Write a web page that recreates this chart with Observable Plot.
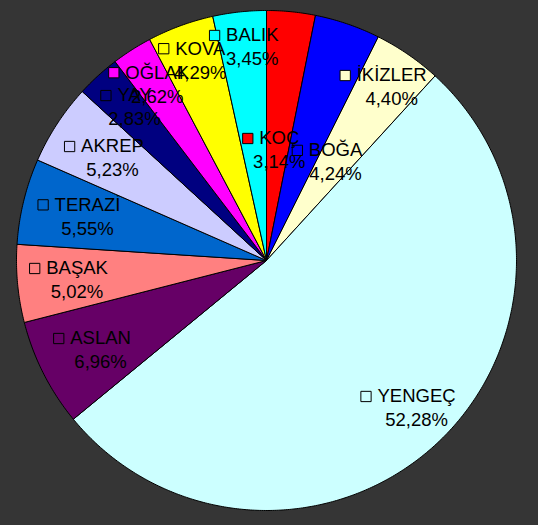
<!DOCTYPE html>
<html>
<head>
<meta charset="utf-8">
<script src="https://cdn.jsdelivr.net/npm/d3@7"></script>
<script src="https://cdn.jsdelivr.net/npm/@observablehq/plot@0.6"></script>
<style>
  html, body { margin: 0; padding: 0; background: #353535; }
  #chart svg { display: block; }
</style>
</head>
<body>
<div id="chart"></div>
<script>
// ---- data (clockwise from 12 o'clock) ----
const names  = ["KOÇ", "BOĞA", "İKİZLER", "YENGEÇ", "ASLAN", "BAŞAK", "TERAZİ", "AKREP", "YAY", "OĞLAK", "KOVA", "BALIK"];
const shares = [3.14, 4.24, 4.40, 52.28, 6.96, 5.02, 5.55, 5.23, 2.83, 2.62, 4.29, 3.45];
const colors = ["#ff0000", "#0000ff", "#ffffcc", "#ccffff", "#660066", "#ff8080", "#0066cc", "#ccccff", "#000080", "#ff00ff", "#ffff00", "#00ffff"];

// ---- label layout (radius fraction, angle nudge in degrees) ----
const labelRadius = [0.443, 0.48, 0.854, 0.843, 0.755, 0.762, 0.737, 0.739, 0.808, 0.828, 0.842, 0.854];
const labelTurn   = [1.0, 16.2, 1.4, -1.9, -1.6, -0.7, 0.0, 0.4, 1.6, 0.7, 1.8, 2.4];

const FONT_SIZE = 18.5;
const FONT_FAMILY = "Liberation Sans, Arial, sans-serif";
const R_PX = 250; // pixels per data unit

const total = d3.sum(shares);
const fmt = v => v.toFixed(2).replace(".", ",") + "%";

// measure text widths
const ctx = document.createElement("canvas").getContext("2d");
ctx.font = `${FONT_SIZE}px ${FONT_FAMILY}`;

const slices = [];
const labels = [];
let acc = 0;
names.forEach((name, i) => {
  const a0 = acc / total * 2 * Math.PI;
  acc += shares[i];
  const a1 = acc / total * 2 * Math.PI;
  const n = Math.max(2, Math.ceil((a1 - a0) / (Math.PI / 360)));
  slices.push({name, color: colors[i], x: 0, y: 0});
  for (let k = 0; k <= n; k++) {
    const a = a0 + (a1 - a0) * k / n;
    slices.push({name, color: colors[i], x: Math.sin(a), y: Math.cos(a)});
  }
  slices.push({name, color: colors[i], x: 0, y: 0});
  const am = (a0 + a1) / 2 + labelTurn[i] * Math.PI / 180;
  const lx = labelRadius[i] * Math.sin(am);
  const ly = labelRadius[i] * Math.cos(am);
  const w = ctx.measureText(name).width;
  labels.push({
    name, pct: fmt(shares[i]), color: colors[i],
    x: lx, y: ly,
    sx: lx - (w / 2 + 6.5 + 5) / R_PX
  });
});

const chart = Plot.plot({
  width: 538,
  height: 525,
  marginLeft: 16,
  marginRight: 22,
  marginTop: 10,
  marginBottom: 15,
  x: {domain: [-1, 1], axis: null},
  y: {domain: [-1, 1], axis: null},
  color: {type: "identity"},
  style: {background: "#353535", fontFamily: FONT_FAMILY},
  marks: [
    Plot.line(slices, {x: "x", y: "y", z: "name", fill: "color", stroke: "black", strokeWidth: 1, strokeLinejoin: "round", curve: "linear"}),
    Plot.dot(labels, {x: "sx", y: "y", dy: -12, symbol: "square", r: 5.8, fill: "color", stroke: "black", strokeWidth: 1}),
    Plot.text(labels, {x: "x", y: "y", text: "name", dy: -12, fill: "black", fontSize: FONT_SIZE, fontFamily: FONT_FAMILY}),
    Plot.text(labels, {x: "x", y: "y", text: "pct", dy: 12, fill: "black", fontSize: FONT_SIZE, fontFamily: FONT_FAMILY})
  ]
});
document.getElementById("chart").appendChild(chart);
</script>
</body>
</html>
